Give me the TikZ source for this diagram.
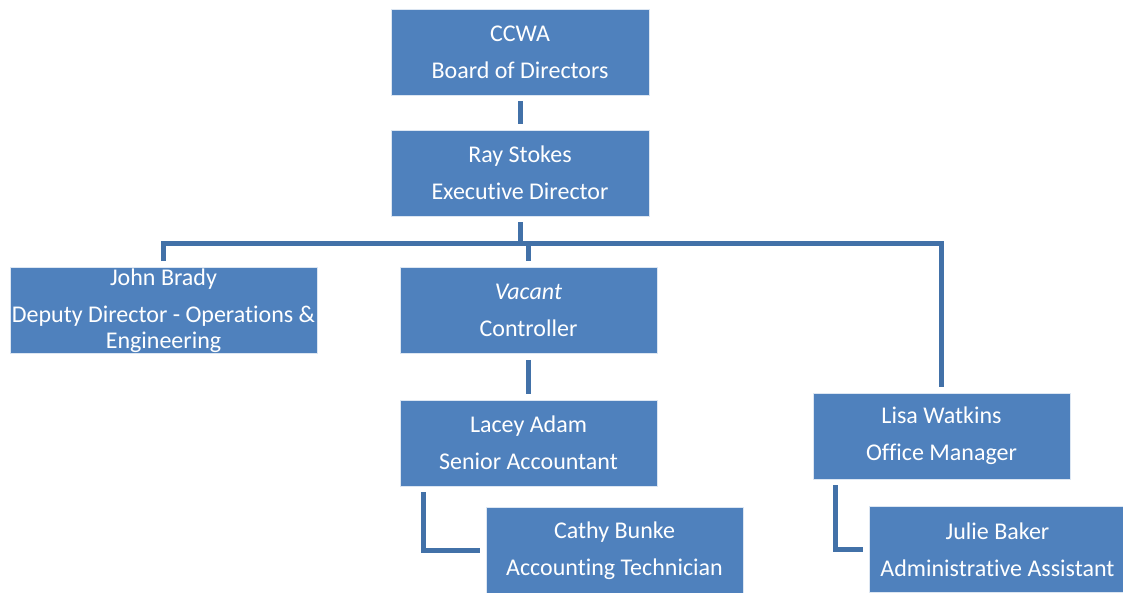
\documentclass[tikz,border=0pt]{standalone}
\usepackage{fontspec}
\setmainfont[RawFeature={-liga;-clig;-calt;-dlig;-rlig}]{Carlito}
\usepackage{xcolor}
\usetikzlibrary{calc}

\definecolor{boxblue}{RGB}{79,129,189}
\definecolor{lineblue}{RGB}{66,113,168}

\tikzset{
  person/.style={rectangle, fill=boxblue, draw=white!80!boxblue, line width=0.4pt,
    text=white, align=center, inner sep=0pt, minimum width=192.75pt, minimum height=64.5pt,
    font=\fontsize{18}{19.5}\selectfont},
  link/.style={draw=lineblue, line width=3.75pt},
}

\begin{document}
\begin{tikzpicture}[x=0.75pt, y=-0.75pt]

            \useasboundingbox (0,0) rectangle (1123,592);

            % Top Level
            \node[person, minimum width=193.5pt] (board) at (520,52) {CCWA\\[8.25pt]Board of Directors};
            \node[person, minimum width=193.5pt] (exec) at (520,173) {Ray Stokes\\[8.25pt]Executive Director};

            % Second Level
            \node[person, minimum width=230.25pt] (deputy) at (163.5,310.5) {John Brady\\[8.25pt]Deputy Director - Operations \&\\Engineering};
            \node[person] (controller) at (528.5,310.5) {\textit{Vacant}\\[8.25pt]Controller};
            \node[person] (office) at (941.5,436) {Lisa Watkins\\[8.25pt]Office Manager};

            % Third Level
            \node[person] (senior) at (528.5,443) {Lacey Adam\\[8.25pt]Senior Accountant};
            \node[person] (tech) at (614.5,550.5) {Cathy Bunke\\[8.25pt]Accounting Technician};
            \node[person] (assistant) at (997.5,549.5) {Julie Baker\\[8.25pt]Administrative Assistant};

            % Bus
            \coordinate (bus) at (0,243);

            % Connect Levels
            \draw[link, shorten <=4.5pt, shorten >=4.5pt] (board) -- (exec);
            \draw[link, shorten <=4.5pt] (exec.south) -- (exec.south |- bus);
            \draw[link, shorten <=4.5pt, shorten >=4.5pt] (deputy.north) |- (office.north |- bus) -- (office.north);
            \draw[link, shorten <=4.5pt] (controller.north) -- (controller.north |- bus);
            \draw[link, shorten <=4.5pt, shorten >=4.5pt] (controller) -- (senior);

            % Side Branches
            \draw[link, shorten <=4.5pt, shorten >=4.5pt] ($(senior.south west)+(24,0)$) |- (tech.west);
            \draw[link, shorten <=4.5pt, shorten >=4.5pt] ($(office.south west)+(23,0)$) |- (assistant.west);

        \end{tikzpicture}
\end{document}
